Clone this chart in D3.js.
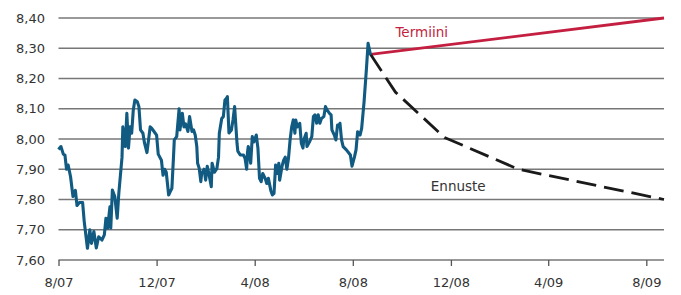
<!DOCTYPE html>
<html>
<head>
<meta charset="utf-8">
<script src="https://cdn.jsdelivr.net/npm/d3@7"></script>
<style>
  body { margin: 0; background: #fff; }
  svg text { font-family: "DejaVu Sans", sans-serif; }
</style>
</head>
<body>
<div id="chart"></div>
<script>
// EUR/SEK history (daily-ish readings) and forward / forecast
const histDates = [
  "2007-08-01","2007-08-04","2007-08-07","2007-08-09","2007-08-11","2007-08-13","2007-08-16","2007-08-19","2007-08-22","2007-08-24",
  "2007-08-27","2007-08-31","2007-09-02","2007-09-06","2007-09-09","2007-09-11","2007-09-14","2007-09-17","2007-09-20","2007-09-24",
  "2007-09-27","2007-09-29","2007-10-01","2007-10-04","2007-10-05","2007-10-07","2007-10-10","2007-10-13","2007-10-15","2007-10-19",
  "2007-10-20","2007-10-23","2007-10-25","2007-10-27","2007-10-29","2007-10-31","2007-11-02","2007-11-04","2007-11-07","2007-11-09",
  "2007-11-11","2007-11-14","2007-11-16","2007-11-19","2007-11-23","2007-11-25","2007-11-28","2007-12-01","2007-12-03","2007-12-07",
  "2007-12-09","2007-12-11","2007-12-13","2007-12-16","2007-12-18","2007-12-20","2007-12-22","2007-12-23","2007-12-26","2007-12-29",
  "2007-12-30","2008-01-02","2008-01-04","2008-01-06","2008-01-09","2008-01-11","2008-01-14","2008-01-16","2008-01-18","2008-01-20",
  "2008-01-21","2008-01-23","2008-01-25","2008-01-26","2008-01-29","2008-01-31","2008-02-02","2008-02-04","2008-02-07","2008-02-08",
  "2008-02-11","2008-02-14","2008-02-16","2008-02-17","2008-02-20","2008-02-22","2008-02-24","2008-02-26","2008-02-27","2008-02-29",
  "2008-03-03","2008-03-05","2008-03-07","2008-03-10","2008-03-11","2008-03-14","2008-03-18","2008-03-20","2008-03-22","2008-03-23",
  "2008-03-24","2008-03-27","2008-03-29","2008-03-31","2008-04-03","2008-04-05","2008-04-07","2008-04-09","2008-04-11","2008-04-14",
  "2008-04-16","2008-04-18","2008-04-21","2008-04-23","2008-04-25","2008-04-27","2008-04-29","2008-05-01","2008-05-02","2008-05-05",
  "2008-05-07","2008-05-09","2008-05-11","2008-05-13","2008-05-15","2008-05-17","2008-05-19","2008-05-21","2008-05-22","2008-05-24",
  "2008-05-27","2008-05-29","2008-05-31","2008-06-01","2008-06-04","2008-06-05","2008-06-08","2008-06-11","2008-06-13","2008-06-15",
  "2008-06-17","2008-06-19","2008-06-21","2008-06-23","2008-06-26","2008-06-28","2008-06-30","2008-07-03","2008-07-05","2008-07-06",
  "2008-07-09","2008-07-11","2008-07-13","2008-07-15","2008-07-16","2008-07-18","2008-07-20","2008-07-24","2008-07-29","2008-07-31",
  "2008-08-03","2008-08-05","2008-08-07","2008-08-10","2008-08-12","2008-08-15","2008-08-18","2008-08-20","2008-08-23"
];
const histValues = [
  7.965,7.975,7.95,7.947,7.90,7.914,7.875,7.81,7.83,7.78,
  7.79,7.79,7.727,7.639,7.70,7.655,7.694,7.64,7.677,7.666,
  7.683,7.738,7.705,7.776,7.705,7.831,7.81,7.738,7.82,7.94,
  8.04,7.975,8.085,7.97,8.04,8.019,8.096,8.129,8.123,8.107,
  8.03,8.019,7.986,7.955,8.04,8.035,8.024,8.013,7.95,7.93,
  7.88,7.90,7.89,7.815,7.826,7.837,7.94,7.997,8.008,8.10,
  8.03,8.085,8.04,8.05,8.025,8.074,8.025,8.03,8.013,7.975,
  7.92,7.903,7.859,7.886,7.90,7.864,7.91,7.886,7.842,7.92,
  7.89,7.903,7.94,8.019,8.068,8.074,8.129,8.135,8.14,8.02,
  8.03,8.063,8.107,7.986,7.96,7.947,7.947,7.936,7.90,7.955,
  7.975,7.92,8.008,7.99,8.013,7.97,7.87,7.859,7.886,7.87,
  7.853,7.87,7.83,7.815,7.82,7.914,7.886,7.92,7.864,7.91,
  7.93,7.94,7.90,7.936,7.997,8.04,8.063,8.019,8.063,8.04,
  8.052,7.986,7.97,7.997,8.019,7.975,7.99,8.008,8.074,8.08,
  8.052,8.08,8.052,8.068,8.074,8.107,8.096,8.085,8.08,8.03,
  8.013,7.997,8.046,8.046,8.052,7.997,7.975,7.964,7.947,7.91,
  7.94,7.964,8.024,8.013,8.035,8.123,8.234,8.316,8.278
];

const termDates = ["2008-08-23", "2009-08-23"];
const termValues = [8.28, 8.40];

const fcDates = ["2008-08-23", "2008-09-23", "2008-11-23", "2009-02-23", "2009-08-23"];
const fcValues = [8.28, 8.155, 8.005, 7.90, 7.80];

const xTickDates = ["2007-08-01", "2007-12-01", "2008-04-01", "2008-08-01", "2008-12-01", "2009-04-01", "2009-08-01"];
const yTicks = [7.6, 7.7, 7.8, 7.9, 8.0, 8.1, 8.2, 8.3, 8.4];

const parse = d3.timeParse("%Y-%m-%d");
const zip = (ds, vs) => ds.map((d, i) => ({ date: parse(d), value: vs[i] }));
const hist = zip(histDates, histValues);
const term = zip(termDates, termValues);
const fc = zip(fcDates, fcValues);

const width = 681, height = 295;
const margin = { top: 18, right: 17, bottom: 35, left: 58.5 };

const x = d3.scaleTime()
  .domain([parse("2007-08-01"), parse("2009-08-23")])
  .range([margin.left, width - margin.right]);
const y = d3.scaleLinear()
  .domain([7.6, 8.4])
  .range([height - margin.bottom, margin.top]);

const svg = d3.select("#chart").append("svg")
  .attr("width", width)
  .attr("height", height);

// grid lines
svg.append("g")
  .selectAll("line")
  .data(yTicks)
  .join("line")
  .attr("x1", margin.left)
  .attr("x2", width - margin.right)
  .attr("y1", d => y(d))
  .attr("y2", d => y(d))
  .attr("stroke", "#777")
  .attr("stroke-width", 1.5);

// y labels
svg.append("g")
  .selectAll("text")
  .data(yTicks)
  .join("text")
  .attr("x", 45)
  .attr("y", d => y(d))
  .attr("dy", "0.36em")
  .attr("text-anchor", "end")
  .attr("font-size", 13)
  .attr("fill", "#333")
  .text(d => d3.format(".2f")(d).replace(".", ","));

// x axis
const fmt = d3.timeFormat("%-m/%y");
const xAxis = d3.axisBottom(x)
  .tickValues(xTickDates.map(parse))
  .tickSize(6)
  .tickPadding(12)
  .tickFormat(fmt);
const gx = svg.append("g")
  .attr("transform", `translate(0, ${y(7.6)})`)
  .call(xAxis);
gx.select(".domain").remove();
gx.selectAll(".tick line").attr("stroke", "#555").attr("stroke-width", 1.3);
gx.selectAll(".tick text")
  .attr("font-size", 13)
  .attr("fill", "#333")
  .attr("font-family", "DejaVu Sans, sans-serif");

const line = d3.line()
  .x(d => x(d.date))
  .y(d => y(d.value));

svg.append("path")
  .datum(term)
  .attr("fill", "none")
  .attr("stroke", "#c41f40")
  .attr("stroke-width", 2.8)
  .attr("d", line);

svg.append("path")
  .datum(fc)
  .attr("fill", "none")
  .attr("stroke", "#1a1a1a")
  .attr("stroke-width", 2.8)
  .attr("stroke-dasharray", "20,8")
  .attr("stroke-linejoin", "round")
  .attr("d", line);

svg.append("path")
  .datum(hist)
  .attr("fill", "none")
  .attr("stroke", "#115a82")
  .attr("stroke-width", 3.1)
  .attr("stroke-linejoin", "round")
  .attr("d", line);

// labels
svg.append("text")
  .attr("x", x(parse("2008-09-23")))
  .attr("y", 37)
  .attr("font-size", 13.5)
  .attr("fill", "#c41f40")
  .text("Termiini");

svg.append("text")
  .attr("x", x(parse("2008-11-06")))
  .attr("y", 191)
  .attr("font-size", 13.5)
  .attr("fill", "#333")
  .text("Ennuste");
</script>
</body>
</html>
